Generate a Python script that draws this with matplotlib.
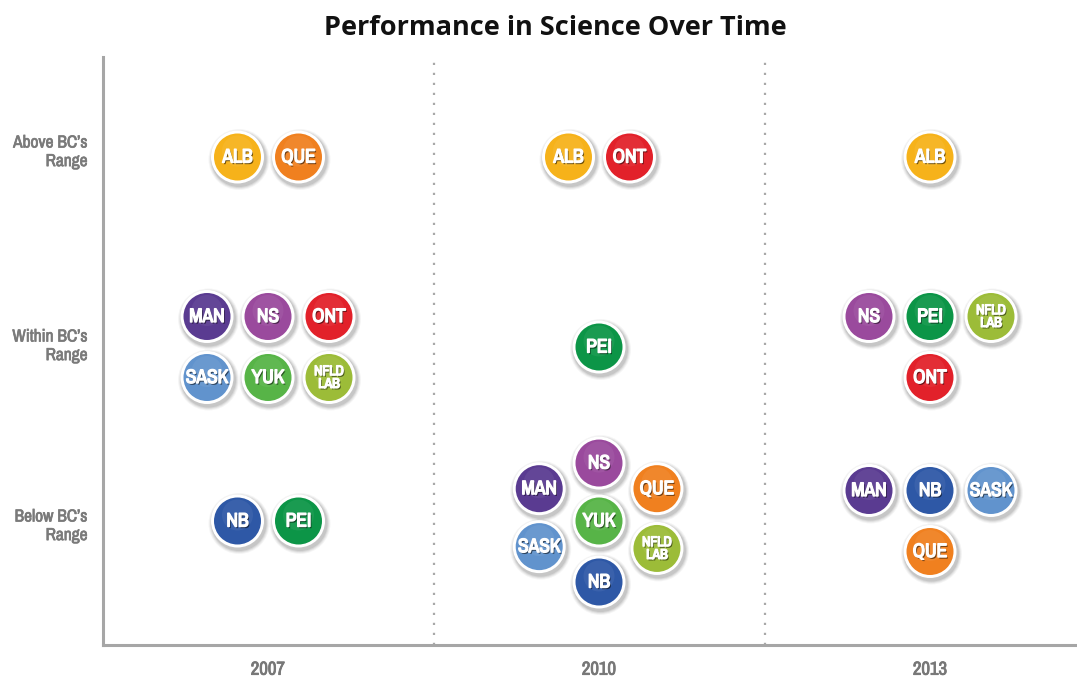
import matplotlib
matplotlib.use('Agg')
import matplotlib.pyplot as plt
import matplotlib.patheffects as pe
from matplotlib import font_manager
from matplotlib.patches import Circle

# Data: which provinces fell in each band, per assessment year
years = ['2007', '2010', '2013']
bands = ["Above BC\u2019s\nRange", "Within BC\u2019s\nRange", "Below BC\u2019s\nRange"]

above_2007 = ['ALB', 'QUE']
within_2007 = ['MAN', 'NS', 'ONT', 'SASK', 'YUK', 'NFLD\nLAB']
below_2007 = ['NB', 'PEI']

above_2010 = ['ALB', 'ONT']
within_2010 = ['PEI']
below_2010 = ['NS', 'MAN', 'QUE', 'YUK', 'SASK', 'NFLD\nLAB', 'NB']

above_2013 = ['ALB']
within_2013 = ['NS', 'PEI', 'NFLD\nLAB', 'ONT']
below_2013 = ['MAN', 'NB', 'SASK', 'QUE']

results = {
    '2007': [above_2007, within_2007, below_2007],
    '2010': [above_2010, within_2010, below_2010],
    '2013': [above_2013, within_2013, below_2013],
}

colors = {
    'ALB': '#F6B21A', 'QUE': '#F0801F', 'ONT': '#E2212A', 'MAN': '#5A3B91',
    'NS': '#9A4A9D', 'SASK': '#6193CD', 'YUK': '#57B447', 'NFLD\nLAB': '#9CBC38',
    'NB': '#2E58A6', 'PEI': '#0C9547',
}

# cluster arrangements (offsets in bubble steps, y downwards)
layouts = {
    1: [(0, 0)],
    2: [(-0.5, 0), (0.5, 0)],
    4: [(-1, -0.5), (0, -0.5), (1, -0.5), (0, 0.5)],
    6: [(-1, -0.5), (0, -0.5), (1, -0.5), (-1, 0.5), (0, 0.5), (1, 0.5)],
    7: [(0, -0.95), (-0.98, -0.53), (0.95, -0.53), (0, 0),
        (-0.98, 0.42), (0.95, 0.45), (0, 1.0)],
}

# pick a condensed face if there is one
names = sorted({f.name for f in font_manager.fontManager.ttflist})
narrow = [n for n in names if 'Narrow' in n or 'Condensed' in n]
if 'Liberation Sans Narrow' in narrow:
    cond = 'Liberation Sans Narrow'
elif narrow:
    cond = narrow[0]
else:
    cond = None
if cond:
    label_font = [cond, 'DejaVu Sans']
    k = 1.0
else:
    label_font = ['Roboto', 'DejaVu Sans']
    k = 0.88


def heavy(color, w=0.9):
    # thicken the glyphs a little (narrow face has no real bold here)
    return [pe.Stroke(linewidth=w, foreground=color), pe.Normal()]


W, H = 974, 588           # axes size in px, data units = px
col_x = [165 + 331 * i for i in range(3)]
band_y = [488, 298, 124]
step = 61
r_out, r_in = 26.5, 23.5

fig = plt.figure(figsize=(10.77, 6.77), dpi=100)
ax = fig.add_axes([103 / 1077, 32 / 677, W / 1077, H / 677])
ax.set_xlim(0, W)
ax.set_ylim(0, H)

for i, yr in enumerate(years):
    for j, provs in enumerate(results[yr]):
        for (dx, dy), p in zip(layouts[len(provs)], provs):
            cx = col_x[i] + dx * step
            cy = band_y[j] - dy * step
            # soft drop shadow
            for n, a in enumerate([0.04, 0.05, 0.07, 0.08]):
                ax.add_patch(Circle((cx + 1.5, cy - 2.5), r_out + 4 - n, color='black',
                                    alpha=a, lw=0, zorder=2))
            ax.add_patch(Circle((cx, cy), r_out, color='white', lw=0, zorder=3))
            ax.add_patch(Circle((cx, cy), r_in, color=colors[p], lw=0, zorder=4))
            ax.add_patch(Circle((cx, cy + 6), r_in - 8, color='white', alpha=0.06,
                                lw=0, zorder=4))
            small = '\n' in p
            ax.text(cx, cy, p, ha='center', va='center', color='white',
                    fontsize=(10 if small else 14) * k, fontweight='bold',
                    family=label_font, linespacing=0.88, zorder=5,
                    path_effects=[pe.SimplePatchShadow(offset=(1, -1.2),
                                                       shadow_rgbFace='black', alpha=0.55),
                                  pe.Stroke(linewidth=1.0, foreground='white'),
                                  pe.Normal()])

# dividers between years
for xd in [(col_x[0] + col_x[1]) / 2, (col_x[1] + col_x[2]) / 2]:
    ax.plot([xd, xd], [0, H], color='#A8A8A8', lw=1.6, ls=(0, (1, 3.5)), zorder=1)

for s in ['top', 'right']:
    ax.spines[s].set_visible(False)
for s in ['left', 'bottom']:
    ax.spines[s].set_color('#A6A6A6')
    ax.spines[s].set_linewidth(2.2)

ax.set_xticks(col_x)
ax.set_xticklabels(years, fontsize=13.5 * k, fontweight='bold', color='#777777',
                   family=label_font)
ax.set_yticks([band_y[0] + 8, band_y[1] + 4, band_y[2] - 2])
ax.set_yticklabels(bands, fontsize=12.5 * k, fontweight='bold', color='#7A7A7A',
                   family=label_font, linespacing=1.3)
for t in ax.get_xticklabels():
    t.set_path_effects(heavy('#777777', 0.6))
for t in ax.get_yticklabels():
    t.set_path_effects(heavy('#7A7A7A', 0.5))
ax.tick_params(length=0, pad=11)
ax.tick_params(axis='x', pad=12)

fig.text(0.516, 0.958, 'Performance in Science Over Time', ha='center', va='center',
         fontsize=19.5, fontweight='bold', family=['Open Sans', 'DejaVu Sans'],
         color='#111111')

fig.savefig('out.png', dpi=100)
